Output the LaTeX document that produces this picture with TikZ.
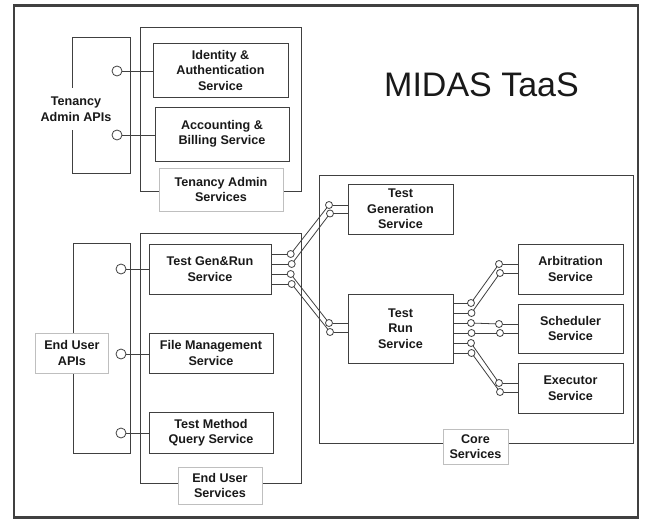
\documentclass[tikz,border=0pt]{standalone}
\usepackage{fontspec}
\setmainfont{Liberation Sans}
\usetikzlibrary{shadows}
\begin{document}
\begin{tikzpicture}[x=1pt,y=-1pt,
  every node/.style={inner sep=0pt, outer sep=0pt},
  txt/.style={font=\fontsize{12.6}{15.5}\selectfont\bfseries, align=center, text=black!90},
  container/.style={draw=black!75, line width=0.9pt, rectangle,
     drop shadow={shadow xshift=0.7pt, shadow yshift=-0.7pt, opacity=0.3}, fill=white},
  svc/.style={txt, draw=black!75, line width=0.9pt, rectangle, fill=white,
     drop shadow={shadow xshift=0.7pt, shadow yshift=-0.7pt, opacity=0.3}},
  lbl/.style={txt, draw=black!25, line width=0.5pt, rectangle, fill=white,
     drop shadow={shadow xshift=0.6pt, shadow yshift=-1.4pt, opacity=0.35}},
  lblplain/.style={txt, rectangle, fill=white},
  ball/.style={circle, draw=black!75, fill=white, line width=0.8pt, minimum size=7pt},
  apiball/.style={circle, draw=black!75, fill=white, line width=0.8pt, minimum size=10pt},
  wire/.style={draw=black!75, line width=0.8pt}
]
\useasboundingbox (0,0) rectangle (646,519);
% outer frame
\node[draw=black!75, line width=2.2pt, rectangle, minimum width=624pt, minimum height=512pt,
  drop shadow={shadow xshift=-1.5pt, shadow yshift=-0.8pt, opacity=0.45}, fill=white] (frame) at (326,261.5) {};

% title
\node[font=\fontsize{34}{40}\selectfont, text=black!90] (title) at (481.5,84.5) {MIDAS TaaS};

% containers
\node[container, minimum width=161pt, minimum height=164pt] (tas) at (220.5,109) {};
\node[container, minimum width=161pt, minimum height=250pt] (eus) at (220.5,358) {};
\node[container, minimum width=314pt, minimum height=268pt] (core) at (476,309) {};
\node[container, minimum width=58pt, minimum height=136pt] (tapi) at (101,105) {};
\node[container, minimum width=57pt, minimum height=210pt] (eapi) at (101.5,348) {};

% services
\node[svc, minimum width=135pt, minimum height=54pt] (ident) at (220.5,70) {Identity \&\\Authentication\\Service};
\node[svc, minimum width=134pt, minimum height=54pt] (acct) at (222,134) {Accounting \&\\Billing Service};
\node[svc, minimum width=122pt, minimum height=50pt] (genrun) at (210,269) {Test Gen\&Run\\Service};
\node[svc, minimum width=124pt, minimum height=40pt] (filem) at (211,353) {File Management\\Service};
\node[svc, minimum width=124pt, minimum height=41pt] (tmq) at (211,432.5) {Test Method\\Query Service};
\node[svc, minimum width=105pt, minimum height=50pt] (tgen) at (400.5,209) {Test\\Generation\\Service};
\node[svc, minimum width=105pt, minimum height=69pt] (trun) at (400.5,328.5) {Test\\Run\\Service};
\node[svc, minimum width=105pt, minimum height=50pt] (arb) at (570.5,269) {Arbitration\\Service};
\node[svc, minimum width=105pt, minimum height=49pt] (sched) at (570.5,328.5) {Scheduler\\Service};
\node[svc, minimum width=105pt, minimum height=50pt] (exec) at (570.5,388) {Executor\\Service};

% container labels
\node[lbl, minimum width=124pt, minimum height=43pt] (ltas) at (221,189.5) {Tenancy Admin\\Services};
\node[lbl, minimum width=84pt, minimum height=37pt] (leus) at (220,485.5) {End User\\Services};
\node[lbl, minimum width=65pt, minimum height=35pt] (lcore) at (475.5,446.5) {Core\\Services};
\node[lbl, minimum width=73pt, minimum height=40pt] (leapi) at (72,353) {End User\\APIs};
\node[lblplain, minimum width=72pt, minimum height=42pt] (ltapi) at (76,109) {Tenancy\\Admin APIs};

% API lollipops
\node[apiball] (a1) at (117,71) {};
\node[apiball] (a2) at (117,135) {};
\node[apiball] (a3) at (121,269) {};
\node[apiball] (a4) at (121,354) {};
\node[apiball] (a5) at (121,433) {};
\draw[wire] (a1) -- (ident.west |- a1);
\draw[wire] (a2) -- (acct.west |- a2);
\draw[wire] (a3) -- (genrun.west |- a3);
\draw[wire] (a4) -- (filem.west |- a4);
\draw[wire] (a5) -- (tmq.west |- a5);

% Gen&Run ports
\node[ball] (g1) at (290.7,254) {};
\node[ball] (g2) at (291.7,264) {};
\node[ball] (g3) at (290.7,274) {};
\node[ball] (g4) at (291.7,284) {};
% Test generation ports
\node[ball] (tg1) at (329,205) {};
\node[ball] (tg2) at (330,213.5) {};
% Test run left ports
\node[ball] (tr1) at (329,323) {};
\node[ball] (tr2) at (330,332) {};
% Test run right ports
\node[ball] (r1) at (471,303) {};
\node[ball] (r2) at (471.5,313) {};
\node[ball] (r3) at (471,323) {};
\node[ball] (r4) at (471.5,333) {};
\node[ball] (r5) at (471,343) {};
\node[ball] (r6) at (471.5,353) {};
% target ports
\node[ball] (ab1) at (499,264) {};
\node[ball] (ab2) at (500,273) {};
\node[ball] (sc1) at (499,324) {};
\node[ball] (sc2) at (500,333) {};
\node[ball] (ex1) at (499,383) {};
\node[ball] (ex2) at (500,392) {};

% stubs
\foreach \p in {g1,g2,g3,g4} \draw[wire] (genrun.east |- \p) -- (\p);
\foreach \p in {tg1,tg2} \draw[wire] (\p) -- (tgen.west |- \p);
\foreach \p in {tr1,tr2} \draw[wire] (\p) -- (trun.west |- \p);
\foreach \p in {r1,r2,r3,r4,r5,r6} \draw[wire] (trun.east |- \p) -- (\p);
\foreach \p in {ab1,ab2} \draw[wire] (\p) -- (arb.west |- \p);
\foreach \p in {sc1,sc2} \draw[wire] (\p) -- (sched.west |- \p);
\foreach \p in {ex1,ex2} \draw[wire] (\p) -- (exec.west |- \p);

% links
\draw[wire] (g1) -- (tg1);
\draw[wire] (g2) -- (tg2);
\draw[wire] (g3) -- (tr1);
\draw[wire] (g4) -- (tr2);
\draw[wire] (r1) -- (ab1);
\draw[wire] (r2) -- (ab2);
\draw[wire] (r3) -- (sc1);
\draw[wire] (r4) -- (sc2);
\draw[wire] (r5) -- (ex1);
\draw[wire] (r6) -- (ex2);
\end{tikzpicture}
\end{document}
